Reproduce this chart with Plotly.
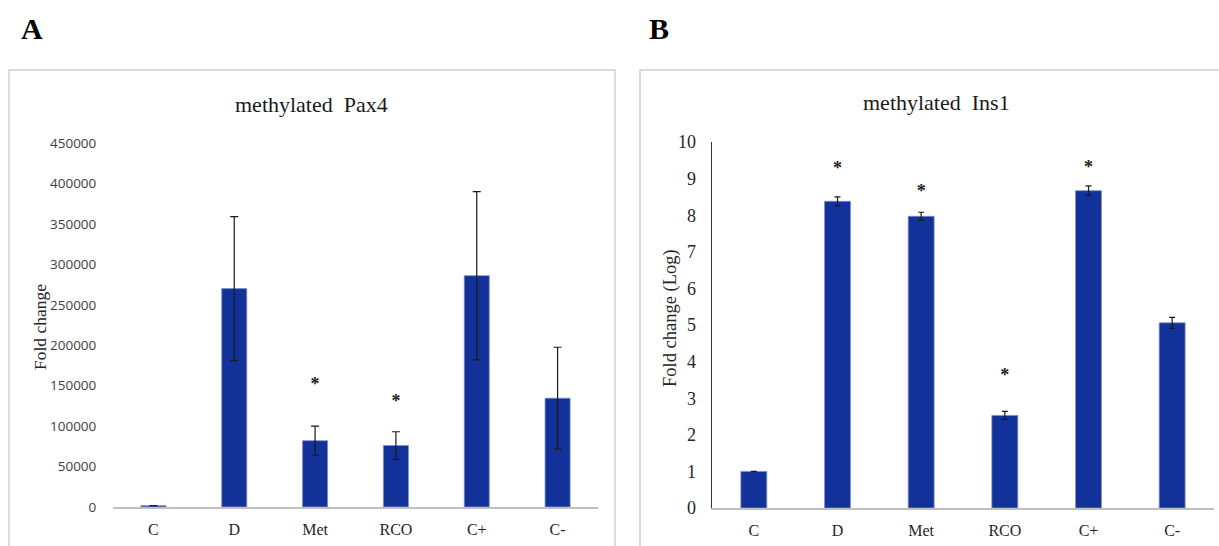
import plotly.graph_objects as go

W, H = 1219, 546

categories = ["C", "D", "Met", "RCO", "C+", "C-"]

# Panel A: methylated Pax4
pax4_values = [1600, 270000, 82000, 76000, 286000, 134500]
pax4_errors = [0, 89000, 18000, 17000, 104000, 63000]
pax4_star_cats = ["Met", "RCO"]
pax4_star_y = [150000, 129000]
pax4_ticks = [0, 50000, 100000, 150000, 200000, 250000, 300000, 350000, 400000, 450000]

# Panel B: methylated Ins1
ins1_values = [1.0, 8.38, 7.97, 2.53, 8.67, 5.06]
ins1_errors = [0.0, 0.12, 0.11, 0.11, 0.13, 0.15]
ins1_star_cats = ["D", "Met", "RCO", "C+"]
ins1_star_y = [9.25, 8.62, 3.60, 9.28]
ins1_ticks = list(range(0, 11))

BAR = "#12329A"
SERIF = "Liberation Serif"
SANS = "Open Sans"

def px_x(p):
    return p / W

def px_y(p):
    return 1 - p / H

fig = go.Figure()

fig.add_trace(go.Bar(
    x=categories, y=pax4_values, xaxis="x", yaxis="y",
    marker=dict(color=BAR, line=dict(color="#7f8fc8", width=0.8)),
    width=0.31,
    error_y=dict(type="data", array=pax4_errors, color="#1a1a1a", thickness=1.2, width=4),
    showlegend=False, hoverinfo="skip",
))
fig.add_trace(go.Scatter(
    x=pax4_star_cats, y=pax4_star_y, xaxis="x", yaxis="y", mode="text",
    text=["<b>*</b>"] * len(pax4_star_cats),
    textfont=dict(family=SERIF, size=18, color="#1a1a1a"), showlegend=False, hoverinfo="skip",
))

fig.add_trace(go.Bar(
    x=categories, y=ins1_values, xaxis="x2", yaxis="y2",
    marker=dict(color=BAR, line=dict(color="#7f8fc8", width=0.8)),
    width=0.31,
    error_y=dict(type="data", array=ins1_errors, color="#1a1a1a", thickness=1.2, width=3),
    showlegend=False, hoverinfo="skip",
))
fig.add_trace(go.Scatter(
    x=ins1_star_cats, y=ins1_star_y, xaxis="x2", yaxis="y2", mode="text",
    text=["<b>*</b>"] * len(ins1_star_cats),
    textfont=dict(family=SERIF, size=18, color="#1a1a1a"), showlegend=False, hoverinfo="skip",
))

xcommon = dict(
    type="category", showgrid=False, zeroline=False, showline=True, linecolor="#bfbfbf", linewidth=1.5,
    ticks="outside", ticklen=7, tickcolor="rgba(0,0,0,0)", automargin=False,
    tickfont=dict(family=SERIF, size=16, color="#262626"), fixedrange=True,
)

fig.update_layout(
    width=W, height=H,
    margin=dict(l=0, r=0, t=0, b=0, pad=0, autoexpand=False),
    paper_bgcolor="white", plot_bgcolor="white",
    bargap=0,
    xaxis=dict(xcommon, domain=[px_x(113), px_x(598)], anchor="y", range=[-0.5, 5.5]),
    yaxis=dict(
        domain=[px_y(507), px_y(143)], range=[0, 450000], anchor="x", automargin=False, fixedrange=True,
        tickvals=pax4_ticks, ticktext=[str(v) for v in pax4_ticks],
        showgrid=False, zeroline=False, showline=False,
        ticks="outside", ticklen=13, tickcolor="rgba(0,0,0,0)",
        tickfont=dict(family=SANS, size=13.5, color="#404040"),
    ),
    xaxis2=dict(xcommon, domain=[px_x(712), px_x(1214)], anchor="y2", range=[-0.5, 5.5]),
    yaxis2=dict(
        domain=[px_y(508), px_y(142)], range=[0, 10], anchor="x2", automargin=False, fixedrange=True,
        tickvals=ins1_ticks,
        showgrid=False, zeroline=False, showline=True, linecolor="#333333", linewidth=1.5,
        ticks="outside", ticklen=11, tickcolor="rgba(0,0,0,0)",
        tickfont=dict(family=SERIF, size=18, color="#262626"),
    ),
)

shapes = [
    dict(type="rect", xref="paper", yref="paper", x0=px_x(9), x1=px_x(615), y0=px_y(560), y1=px_y(70),
         line=dict(color="#d0d0d0", width=1.5), fillcolor="rgba(0,0,0,0)", layer="below"),
    dict(type="rect", xref="paper", yref="paper", x0=px_x(640), x1=px_x(1230), y0=px_y(560), y1=px_y(70),
         line=dict(color="#d0d0d0", width=1.5), fillcolor="rgba(0,0,0,0)", layer="below"),
]
fig.update_layout(shapes=shapes)

def ann(text, x, y, size, color="#1a1a1a", angle=0):
    return dict(text=text, x=px_x(x), y=px_y(y), xref="paper", yref="paper", showarrow=False,
                xanchor="center", yanchor="middle", textangle=angle,
                font=dict(family=SERIF, size=size, color=color))

annotations = [
    ann("<b>A</b>", 32, 28, 30, "black"),
    ann("<b>B</b>", 659, 28, 30, "black"),
    ann("methylated  Pax4", 311, 105, 22),
    ann("methylated  Ins1", 936, 102, 22),
    ann("Fold change", 40, 327, 17.5, "#262626", -90),
    ann("Fold change (Log)", 670, 318, 18.5, "#262626", -90),
]
fig.update_layout(annotations=annotations)

post = "document.body.style.margin='0';document.body.style.overflow='hidden';"

fig.write_html("out.html", post_script=post, config={"displayModeBar": False, "staticPlot": True})
